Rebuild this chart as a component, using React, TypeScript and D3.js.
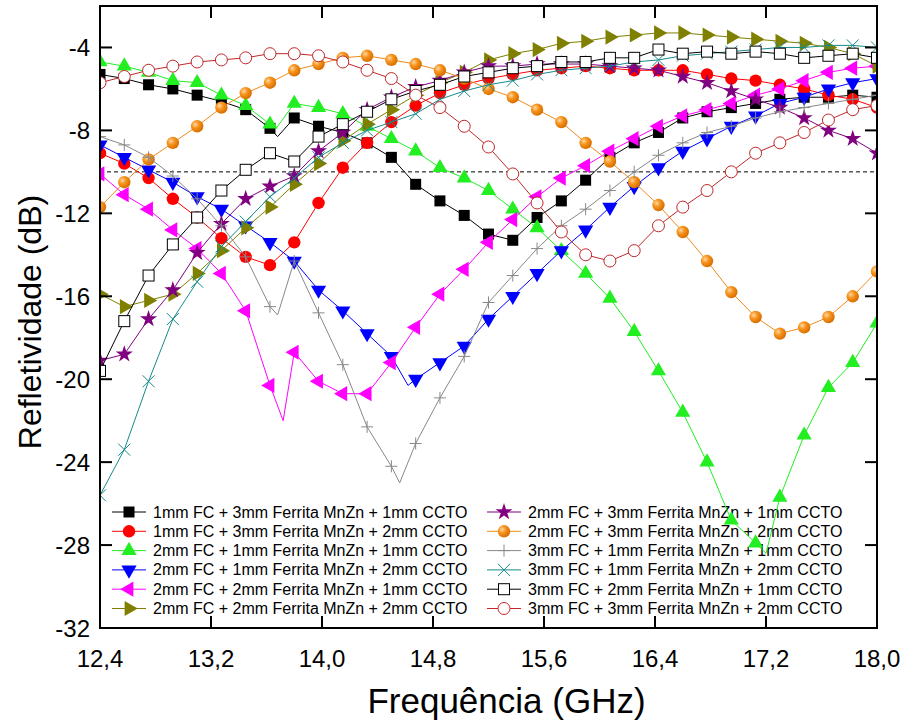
import React, { useEffect, useRef } from "react";
import * as d3 from "d3";

// Frequency axis (GHz) and reflectivity axis (dB)
const xTicks = [12.4, 13.2, 14.0, 14.8, 15.6, 16.4, 17.2, 18.0];
const yTicks = [-32, -28, -24, -20, -16, -12, -8, -4];
const xDomain: [number, number] = [12.4, 18.0];
const yDomain: [number, number] = [-32, -2];
const threshold = -10;

// Marker frequencies: one sample every 0.175 GHz from 12.4 to 18.0
const markerStep = 0.175;
const markerCount = 33;

// Reflectivity (dB) at each marker frequency
const s1mm3mm1mm = [-5.3, -5.5, -5.8, -6.0, -6.3, -6.6, -7.0, -7.9, -7.4, -7.8, -8.1, -8.6, -9.3, -10.6, -11.4, -12.1, -13.0, -13.3, -12.2, -11.4, -10.4, -9.3, -8.6, -8.1, -7.4, -7.1, -6.9, -6.7, -6.5, -6.4, -6.4, -6.3, -6.4];
const s1mm3mm2mm = [-9.1, -9.6, -10.3, -11.3, -12.2, -13.2, -14.1, -14.5, -13.4, -11.5, -9.8, -8.6, -7.6, -6.8, -6.2, -5.8, -5.5, -5.3, -5.1, -5.0, -4.9, -5.0, -5.1, -5.1, -5.1, -5.3, -5.5, -5.6, -5.8, -6.0, -6.3, -6.5, -6.9];
const s2mm1mm1mm = [-4.7, -4.9, -5.2, -5.6, -5.7, -6.3, -6.8, -7.7, -6.7, -6.9, -7.2, -7.8, -8.4, -9.0, -9.8, -10.3, -10.9, -11.8, -12.7, -13.8, -14.9, -16.1, -17.7, -19.6, -21.6, -24.0, -26.8, -27.9, -25.7, -22.7, -20.4, -19.2, -17.3];
const s2mm1mm2mm = [-8.7, -9.3, -9.9, -10.5, -11.2, -11.8, -12.6, -13.4, -14.3, -15.7, -16.7, -17.8, -18.9, -20.0, -19.2, -18.4, -17.1, -16.0, -14.9, -13.8, -12.8, -11.7, -10.7, -9.8, -9.0, -8.4, -7.8, -7.3, -6.7, -6.4, -6.0, -5.7, -5.5];
const s2mm2mm1mm = [-10.1, -11.1, -11.8, -12.8, -13.7, -14.9, -16.7, -20.3, -18.7, -20.1, -20.7, -20.7, -19.2, -17.5, -15.9, -14.7, -13.4, -12.3, -11.2, -10.3, -9.7, -9.0, -8.4, -7.8, -7.3, -7.0, -6.7, -6.3, -6.0, -5.6, -5.2, -5.0, -4.9];
const s2mm2mm2mm = [-15.9, -16.5, -16.2, -15.9, -14.9, -13.8, -12.7, -11.7, -10.6, -9.6, -8.5, -7.7, -7.0, -6.3, -5.7, -5.2, -4.6, -4.3, -4.1, -3.8, -3.7, -3.5, -3.4, -3.3, -3.3, -3.4, -3.5, -3.6, -3.7, -3.8, -4.0, -4.3, -4.9];
const s2mm3mm1mm = [-19.1, -18.8, -17.1, -15.7, -13.9, -12.5, -11.3, -10.7, -10.2, -9.0, -8.1, -7.0, -6.4, -5.9, -5.6, -5.2, -4.9, -4.9, -4.8, -4.8, -4.8, -4.9, -5.0, -5.1, -5.4, -5.7, -6.1, -6.5, -6.9, -7.4, -8.0, -8.4, -9.1];
const s2mm3mm2mm = [-11.7, -10.5, -9.4, -8.6, -7.8, -6.9, -6.2, -5.7, -5.1, -4.8, -4.5, -4.4, -4.6, -4.8, -5.1, -5.5, -6.0, -6.4, -7.0, -7.6, -8.6, -9.5, -10.5, -11.6, -12.9, -14.3, -15.8, -17.0, -17.8, -17.5, -17.0, -16.0, -14.8];
const s3mm1mm1mm = [-8.3, -8.7, -9.3, -10.2, -11.3, -12.6, -14.1, -16.5, -14.3, -16.8, -19.3, -22.3, -24.2, -23.1, -20.9, -18.9, -16.3, -15.0, -13.7, -12.6, -11.8, -10.9, -10.0, -9.2, -8.6, -8.1, -7.8, -7.4, -7.1, -6.9, -6.7, -6.5, -6.3];
const s3mm1mm2mm = [-25.6, -23.4, -20.1, -17.1, -15.3, -13.6, -12.4, -11.2, -10.3, -9.3, -8.6, -8.0, -7.6, -7.2, -6.5, -6.1, -5.8, -5.6, -5.3, -5.1, -5.0, -4.9, -4.7, -4.6, -4.4, -4.3, -4.2, -4.1, -4.0, -4.0, -3.9, -3.9, -4.0];
const s3mm2mm1mm = [-19.6, -17.2, -15.0, -13.5, -12.2, -10.9, -9.9, -9.1, -9.5, -8.3, -7.7, -7.1, -6.5, -6.1, -5.8, -5.4, -5.2, -5.0, -4.9, -4.7, -4.7, -4.5, -4.5, -4.1, -4.3, -4.2, -4.3, -4.2, -4.3, -4.5, -4.4, -4.3, -4.5];
const s3mm3mm2mm = [-5.7, -5.4, -5.1, -4.9, -4.7, -4.6, -4.5, -4.3, -4.3, -4.4, -4.7, -5.1, -5.5, -6.3, -6.9, -7.8, -8.8, -10.1, -11.5, -12.9, -14.0, -14.3, -13.8, -12.6, -11.7, -10.9, -10.0, -9.1, -8.6, -8.1, -7.5, -7.0, -6.8];

// Narrow features between markers: [frequency GHz, dB]
const s1mm3mm1mmExtra: [number, number][] = [[13.68, -8.3]];
const s2mm1mm1mmExtra: [number, number][] = [[13.67, -7.9], [17.2, -28.4]];
const s2mm1mm2mmExtra: [number, number][] = [[14.62, -20.3]];
const s2mm2mm1mmExtra: [number, number][] = [[13.72, -22.0]];
const s3mm1mm1mmExtra: [number, number][] = [[13.68, -16.9], [14.56, -25.0]];

const labels = [
  "1mm FC + 3mm Ferrita MnZn + 1mm CCTO",
  "1mm FC + 3mm Ferrita MnZn + 2mm CCTO",
  "2mm FC + 1mm Ferrita MnZn + 1mm CCTO",
  "2mm FC + 1mm Ferrita MnZn + 2mm CCTO",
  "2mm FC + 2mm Ferrita MnZn + 1mm CCTO",
  "2mm FC + 2mm Ferrita MnZn + 2mm CCTO",
  "2mm FC + 3mm Ferrita MnZn + 1mm CCTO",
  "2mm FC + 3mm Ferrita MnZn + 2mm CCTO",
  "3mm FC + 1mm Ferrita MnZn + 1mm CCTO",
  "3mm FC + 1mm Ferrita MnZn + 2mm CCTO",
  "3mm FC + 2mm Ferrita MnZn + 1mm CCTO",
  "3mm FC + 3mm Ferrita MnZn + 2mm CCTO",
];

type Marker = "square" | "circle" | "triUp" | "triDown" | "triLeft" | "triRight" | "star" | "ball" | "plus" | "cross" | "openSquare" | "openCircle";

const seriesValues = [s1mm3mm1mm, s1mm3mm2mm, s2mm1mm1mm, s2mm1mm2mm, s2mm2mm1mm, s2mm2mm2mm, s2mm3mm1mm, s2mm3mm2mm, s3mm1mm1mm, s3mm1mm2mm, s3mm2mm1mm, s3mm3mm2mm];
const seriesExtras: [number, number][][] = [s1mm3mm1mmExtra, [], s2mm1mm1mmExtra, s2mm1mm2mmExtra, s2mm2mm1mmExtra, [], [], [], s3mm1mm1mmExtra, [], [], []];
const seriesColors = ["#000000", "#ff0000", "#22ee22", "#0000ff", "#ff00ff", "#808000", "#800080", "#f08a1c", "#888888", "#158a8a", "#000000", "#c0282a"];
const seriesMarkers: Marker[] = ["square", "circle", "triUp", "triDown", "triLeft", "triRight", "star", "ball", "plus", "cross", "openSquare", "openCircle"];

const W = 907;
const H = 726;
const left = 100;
const right = 877;
const top = 6;
const bottom = 628;
const FONT = "'Liberation Sans', Arial, sans-serif";

function drawMarker(g: d3.Selection<SVGGElement, unknown, null, undefined>, kind: Marker, x: number, y: number, color: string) {
  const t = `translate(${x},${y})`;
  switch (kind) {
    case "square":
      g.append("rect").attr("x", x - 5.5).attr("y", y - 5.5).attr("width", 11).attr("height", 11).attr("fill", color);
      break;
    case "circle":
      g.append("circle").attr("cx", x).attr("cy", y).attr("r", 6.2).attr("fill", color);
      break;
    case "ball":
      g.append("circle").attr("cx", x).attr("cy", y).attr("r", 6.2).attr("fill", "url(#ballGrad)");
      break;
    case "triUp":
    case "triDown":
    case "triLeft":
    case "triRight": {
      const rot = { triUp: 0, triDown: 180, triLeft: -90, triRight: 90 }[kind];
      g.append("path").attr("d", d3.symbol(d3.symbolTriangle, 100)()).attr("transform", `${t} rotate(${rot})`).attr("fill", color);
      break;
    }
    case "star":
      g.append("path").attr("d", d3.symbol(d3.symbolStar, 90)()).attr("transform", t).attr("fill", color);
      break;
    case "plus":
      g.append("path").attr("d", `M${x - 6},${y}H${x + 6}M${x},${y - 6}V${y + 6}`).attr("stroke", color).attr("stroke-width", 1);
      break;
    case "cross":
      g.append("path").attr("d", `M${x - 6},${y - 6}L${x + 6},${y + 6}M${x - 6},${y + 6}L${x + 6},${y - 6}`).attr("stroke", color).attr("stroke-width", 1);
      break;
    case "openSquare":
      g.append("rect").attr("x", x - 5.5).attr("y", y - 5.5).attr("width", 11).attr("height", 11).attr("fill", "#fff").attr("stroke", color).attr("stroke-width", 1);
      break;
    case "openCircle":
      g.append("circle").attr("cx", x).attr("cy", y).attr("r", 6).attr("fill", "#fff").attr("stroke", color).attr("stroke-width", 1);
      break;
  }
}

export default function App() {
  const ref = useRef<SVGSVGElement | null>(null);

  useEffect(() => {
    const svg = d3.select(ref.current!);
    svg.selectAll("*").remove();

    const x = d3.scaleLinear().domain(xDomain).range([left, right]);
    const y = d3.scaleLinear().domain(yDomain).range([bottom, top]);

    const defs = svg.append("defs");
    const grad = defs.append("radialGradient").attr("id", "ballGrad").attr("cx", "35%").attr("cy", "35%").attr("r", "65%");
    grad.append("stop").attr("offset", "0%").attr("stop-color", "#ffd8a6");
    grad.append("stop").attr("offset", "45%").attr("stop-color", "#f7941d");
    grad.append("stop").attr("offset", "100%").attr("stop-color", "#d86f00");
    defs.append("clipPath").attr("id", "plotClip").append("rect").attr("x", left).attr("y", top).attr("width", right - left).attr("height", bottom - top);

    // Legend (drawn beneath the curves)
    const legend = svg.append("g").attr("font-family", FONT).attr("font-size", 16);
    labels.forEach((lab, i) => {
      const col = i < 6 ? 0 : 1;
      const row = i % 6;
      const lx = col === 0 ? 112 : 487;
      const ly = 512 + row * 19.3;
      const color = seriesColors[i];
      legend.append("line").attr("x1", lx).attr("x2", lx + 34).attr("y1", ly).attr("y2", ly).attr("stroke", color).attr("stroke-width", 1);
      drawMarker(legend as any, seriesMarkers[i], lx + 17, ly, color);
      legend.append("text").attr("x", lx + 41).attr("y", ly).attr("dominant-baseline", "central").attr("fill", "#000").text(lab);
    });

    // Threshold at -10 dB
    svg.append("line").attr("x1", left).attr("x2", right).attr("y1", y(threshold)).attr("y2", y(threshold))
      .attr("stroke", "#000").attr("stroke-width", 1).attr("stroke-dasharray", "4,3");

    const plot = svg.append("g").attr("clip-path", "url(#plotClip)");
    const line = d3.line<[number, number]>().x((d) => x(d[0])).y((d) => y(d[1]));

    seriesValues.forEach((vals, i) => {
      const pts: [number, number][] = vals.map((v, k) => [xDomain[0] + k * markerStep, v] as [number, number]);
      const all = pts.concat(seriesExtras[i]).sort((a, b) => a[0] - b[0]);
      const color = seriesColors[i];
      const g = plot.append("g");
      g.append("path").attr("d", line(all)).attr("fill", "none").attr("stroke", color).attr("stroke-width", 1);
      pts.slice(0, markerCount).forEach(([f, v]) => drawMarker(g as any, seriesMarkers[i], x(f), y(v), color));
    });

    // Frame and ticks
    const axes = svg.append("g").attr("stroke", "#000").attr("stroke-width", 2);
    axes.append("rect").attr("x", left).attr("y", top).attr("width", right - left).attr("height", bottom - top).attr("fill", "none");
    const tl = 12;
    xTicks.forEach((t) => {
      axes.append("line").attr("x1", x(t)).attr("x2", x(t)).attr("y1", bottom).attr("y2", bottom - tl);
      axes.append("line").attr("x1", x(t)).attr("x2", x(t)).attr("y1", top).attr("y2", top + tl);
    });
    yTicks.forEach((t) => {
      axes.append("line").attr("x1", left).attr("x2", left + tl).attr("y1", y(t)).attr("y2", y(t));
      axes.append("line").attr("x1", right).attr("x2", right - tl).attr("y1", y(t)).attr("y2", y(t));
    });

    const fmt = (v: number) => v.toFixed(1).replace(".", ",");
    const labelsG = svg.append("g").attr("font-family", FONT).attr("fill", "#000");
    xTicks.forEach((t) => {
      labelsG.append("text").attr("x", x(t)).attr("y", 667).attr("text-anchor", "middle").attr("font-size", 24).text(fmt(t));
    });
    yTicks.forEach((t) => {
      labelsG.append("text").attr("x", 90).attr("y", y(t)).attr("text-anchor", "end").attr("dominant-baseline", "central").attr("font-size", 24).text(String(t));
    });
    labelsG.append("text").attr("x", (left + right) / 2 + 18).attr("y", 713).attr("text-anchor", "middle").attr("font-size", 35).text("Frequência (GHz)");
    labelsG.append("text").attr("transform", `translate(30,${(top + bottom) / 2 + 5}) rotate(-90)`).attr("text-anchor", "middle").attr("dominant-baseline", "central").attr("font-size", 32).text("Refletividade (dB)");
  }, []);

  return (
    <div style={{ position: "absolute", left: 0, top: 0, background: "#fff" }}>
      <svg ref={ref} width={W} height={H} viewBox={`0 0 ${W} ${H}`} style={{ display: "block" }} />
    </div>
  );
}
